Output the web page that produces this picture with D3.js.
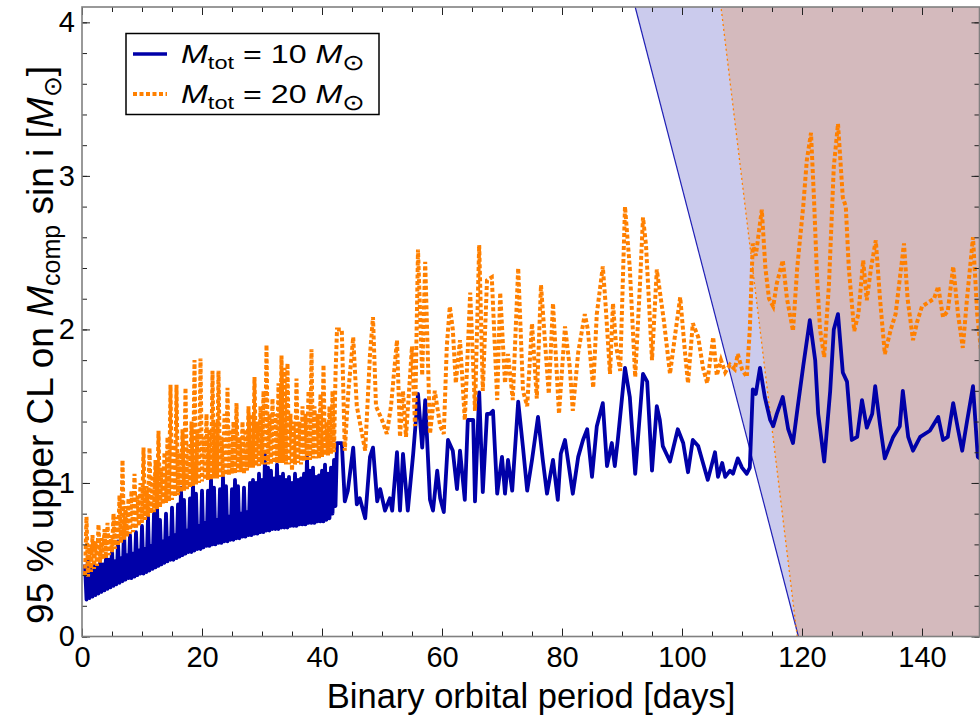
<!DOCTYPE html>
<html>
<head>
<meta charset="utf-8">
<script src="https://cdn.jsdelivr.net/npm/d3@7"></script>
<style>
body { margin:0; background:#fff; }
svg { display:block; font-family:"Liberation Sans", Arial, Helvetica, sans-serif; }
</style>
</head>
<body>
<svg id="graph"></svg>
<script>
// M_tot = 10 Msun : [period (days), 95% upper CL (Msun)]
var m10Series = [
[0.50,0.47],[0.75,0.24],[1.00,0.52],[1.25,0.25],[1.50,0.44],[1.75,0.26],[2.00,0.48],[2.25,0.27],[2.50,0.46],[2.75,0.28],
[3.00,0.50],[3.25,0.29],[3.50,0.47],[3.75,0.30],[4.00,0.52],[4.25,0.31],[4.50,0.50],[4.75,0.32],[5.00,0.57],[5.25,0.33],
[5.50,0.49],[5.75,0.34],[6.00,0.62],[6.25,0.35],[6.50,0.51],[6.75,0.36],[7.00,0.70],[7.25,0.37],[7.50,0.53],[7.75,0.38],
[8.00,0.66],[8.25,0.38],[8.50,0.54],[8.75,0.39],[9.00,0.68],[9.25,0.40],[9.50,0.56],[9.75,0.41],[10.00,0.72],[10.25,0.41],
[10.50,0.57],[10.75,0.42],[11.00,0.78],[11.25,0.43],[11.50,0.59],[11.75,0.44],[12.00,0.80],[12.25,0.45],[12.50,0.85],[12.75,0.46],
[13.00,0.76],[13.25,0.47],[13.50,0.62],[13.75,0.48],[14.00,0.80],[14.25,0.49],[14.50,0.64],[14.75,0.50],[15.00,0.84],[15.25,0.50],
[15.50,0.66],[15.75,0.51],[16.00,0.86],[16.25,0.52],[16.50,0.97],[16.75,0.53],[17.00,0.89],[17.25,0.54],[17.50,0.69],[17.75,0.55],
[18.00,0.90],[18.25,0.55],[18.50,1.00],[18.75,0.56],[19.00,0.93],[19.25,0.57],[19.50,0.72],[19.75,0.57],[20.00,0.95],[20.25,0.58],
[20.50,0.74],[20.75,0.59],[21.00,0.95],[21.25,0.59],[21.50,1.03],[21.75,0.60],[22.00,0.97],[22.25,0.60],[22.50,0.76],[22.75,0.61],
[23.00,0.96],[23.25,0.61],[23.50,1.04],[23.75,0.62],[24.00,0.98],[24.25,0.62],[24.50,0.78],[24.75,0.63],[25.00,0.96],[25.25,0.63],
[25.50,1.02],[25.75,0.64],[26.00,0.98],[26.25,0.64],[26.50,0.80],[26.75,0.65],[27.00,0.97],[27.25,0.65],[27.50,0.81],[27.75,0.66],
[28.00,1.00],[28.25,0.66],[28.50,1.02],[28.75,0.67],[29.00,1.00],[29.25,0.67],[29.50,1.06],[29.75,0.68],[30.00,1.02],[30.25,0.68],
[30.50,1.19],[30.75,0.69],[31.00,1.10],[31.25,0.69],[31.50,1.08],[31.75,0.70],[32.00,1.03],[32.25,0.70],[32.50,1.12],[32.75,0.70],
[33.00,1.04],[33.25,0.71],[33.50,1.06],[33.75,0.71],[34.00,1.02],[34.25,0.71],[34.50,1.04],[34.75,0.72],[35.00,1.00],[35.25,0.72],
[35.50,1.06],[35.75,0.72],[36.00,1.02],[36.25,0.73],[36.50,1.03],[36.75,0.73],[37.00,1.06],[37.25,0.73],[37.50,1.17],[37.75,0.74],
[38.00,1.08],[38.25,0.74],[38.50,1.10],[38.75,0.74],[39.00,1.04],[39.25,0.75],[39.50,1.05],[39.75,0.75],[40.00,1.08],[40.25,0.75],
[40.50,1.12],[40.75,0.76],[41.00,1.06],[41.25,0.77],[41.50,1.10],[41.75,0.80],[42.00,1.15],[42.25,0.85],[42.50,1.26],
[43.3,1.26],[43.8,0.88],[44.3,0.95],[45.2,1.23],[45.8,0.86],[46.3,0.90],[47.2,0.77],[48.0,1.17],[48.5,1.23],[49.2,0.88],
[49.7,0.96],[50.5,0.82],[51.3,0.90],[51.7,0.82],[52.5,1.20],[53.0,0.82],[53.5,1.19],[54.3,0.82],[55.2,1.19],[56.0,1.58],
[56.7,1.23],[57.2,1.54],[58.0,0.89],[58.5,0.82],[59.2,1.08],[59.7,0.90],[60.3,0.81],[61.0,1.28],[61.8,1.21],[62.5,0.96],
[63.0,1.21],[63.8,0.89],[64.3,1.41],[65.2,1.41],[65.5,0.88],[66.2,1.59],[66.8,0.94],[67.5,1.45],[68.0,1.45],[68.5,1.47],
[69.2,0.93],[70.0,1.17],[70.5,0.93],[71.0,1.15],[71.7,0.95],[72.7,1.53],[73.5,1.23],[74.2,0.95],[75.0,1.15],[76.0,1.43],
[76.8,1.15],[77.5,0.93],[78.5,1.15],[79.3,0.89],[79.8,1.19],[80.5,1.28],[80.8,1.20],[81.8,0.93],[82.7,1.17],[83.5,1.28],
[84.2,1.35],[85.0,1.04],[85.8,1.37],[86.8,1.52],[87.5,1.11],[88.3,1.26],[88.8,1.11],[89.3,1.28],[90.5,1.75],[91.3,1.56],
[92.2,1.06],[93.5,1.71],[94.2,1.66],[95.0,1.08],[95.8,1.50],[96.3,1.41],[96.8,1.24],[98.0,1.14],[99.3,1.35],[100.2,1.26],
[101.0,1.07],[101.8,1.28],[102.7,1.24],[103.5,1.13],[104.3,1.02],[105.5,1.20],[106.0,1.04],[106.7,1.13],[107.2,1.04],[108.0,1.08],
[108.5,1.06],[109.3,1.16],[110.0,1.10],[110.8,1.06],[111.3,1.10],[111.8,1.61],[112.3,1.58],[113.0,1.75],[113.8,1.56],[114.7,1.41],
[115.2,1.37],[115.8,1.45],[116.8,1.56],[117.7,1.35],[118.5,1.26],[119.3,1.50],[120.2,1.76],[121.3,2.06],[122.2,1.80],[122.7,1.45],
[123.7,1.14],[124.7,1.60],[125.3,2.00],[126.0,2.10],[126.8,1.72],[127.5,1.66],[128.3,1.28],[129.2,1.30],[130.0,1.54],[130.8,1.36],
[131.7,1.45],[132.2,1.63],[133.0,1.38],[133.8,1.16],[135.2,1.30],[136.3,1.37],[136.8,1.60],[137.7,1.30],[138.5,1.21],[139.7,1.30],
[141.3,1.34],[142.7,1.43],[143.5,1.28],[144.3,1.30],[145.2,1.52],[146.0,1.35],[146.7,1.21],[147.5,1.40],[148.5,1.63],[149.3,1.17],
[150.0,1.15]
];

// M_tot = 20 Msun
var m20Series = [
[0.50,0.40],[0.75,0.78],[1.00,0.39],[1.25,0.60],[1.50,0.42],[1.75,0.66],[2.00,0.44],[2.25,0.62],[2.50,0.46],[2.75,0.73],
[3.00,0.48],[3.25,0.64],[3.50,0.50],[3.75,0.70],[4.00,0.51],[4.25,0.74],[4.50,0.53],[4.75,0.66],[5.00,0.55],[5.25,0.80],
[5.50,0.57],[5.75,0.78],[6.00,0.59],[6.25,0.92],[6.50,0.61],[6.75,1.15],[7.00,0.63],[7.25,0.85],[7.50,0.65],[7.75,0.90],
[8.00,0.67],[8.25,0.95],[8.50,0.68],[8.75,1.06],[9.00,0.70],[9.25,0.92],[9.50,0.72],[9.75,1.00],[10.00,0.74],[10.25,1.23],
[10.50,0.76],[10.75,0.98],[11.00,0.78],[11.25,1.23],[11.50,0.80],[11.75,1.05],[12.00,0.81],[12.25,1.15],[12.50,0.83],[12.75,1.34],
[13.00,0.84],[13.25,1.10],[13.50,0.86],[13.75,1.20],[14.00,0.87],[14.25,1.30],[14.50,0.88],[14.75,1.64],[15.00,0.89],[15.25,1.25],
[15.50,0.91],[15.75,1.64],[16.00,0.92],[16.25,1.20],[16.50,0.94],[16.75,1.35],[17.00,0.95],[17.25,1.62],[17.50,0.96],[17.75,1.25],
[18.00,0.97],[18.25,1.40],[18.50,0.98],[18.75,1.80],[19.00,0.99],[19.25,1.35],[19.50,1.00],[19.75,1.81],[20.00,1.01],[20.25,1.30],
[20.50,1.02],[20.75,1.45],[21.00,1.02],[21.25,1.35],[21.50,1.02],[21.75,1.73],[22.00,1.03],[22.25,1.40],[22.50,1.03],[22.75,1.73],
[23.00,1.04],[23.25,1.30],[23.50,1.04],[23.75,1.45],[24.00,1.05],[24.25,1.62],[24.50,1.05],[24.75,1.35],[25.00,1.06],[25.25,1.40],
[25.50,1.06],[25.75,1.52],[26.00,1.07],[26.25,1.30],[26.50,1.07],[26.75,1.40],[27.00,1.06],[27.25,1.35],[27.50,1.08],[27.75,1.50],
[28.00,1.10],[28.25,1.45],[28.50,1.10],[28.75,1.69],[29.00,1.11],[29.25,1.40],[29.50,1.11],[29.75,1.50],[30.00,1.12],[30.25,1.60],
[30.50,1.12],[30.75,1.90],[31.00,1.12],[31.25,1.45],[31.50,1.12],[31.75,1.55],[32.00,1.13],[32.25,1.45],[32.50,1.13],[32.75,1.65],
[33.00,1.13],[33.25,1.83],[33.50,1.13],[33.75,1.75],[34.00,1.12],[34.25,1.78],[34.50,1.12],[34.75,1.45],[35.00,1.08],[35.25,1.40],
[35.50,1.12],[35.75,1.68],[36.00,1.13],[36.25,1.40],[36.50,1.12],[36.75,1.50],[37.00,1.14],[37.25,1.45],[37.50,1.15],[37.75,1.60],
[38.00,1.15],[38.25,1.87],[38.50,1.16],[38.75,1.50],[39.00,1.16],[39.25,1.45],[39.50,1.16],[39.75,1.58],[40.00,1.17],[40.25,1.77],
[40.50,1.18],[40.75,1.40],[41.00,1.18],[41.25,1.50],[41.50,1.19],[41.75,1.60],[42.00,1.20],[42.25,1.70],[42.50,2.00],
[43.3,2.00],[43.8,1.21],[44.4,1.60],[45.2,1.95],[45.8,1.50],[47.2,1.21],[48.0,1.84],[48.5,2.08],[49.0,1.50],[50.0,1.41],
[50.8,1.32],[51.5,1.50],[52.5,1.93],[53.0,1.30],[53.5,1.60],[54.0,1.30],[55.0,1.89],[55.5,1.37],[56.0,2.52],[56.7,1.70],
[57.2,2.44],[58.0,1.32],[58.8,1.60],[59.7,1.37],[60.3,1.32],[60.8,1.89],[61.3,2.15],[61.8,2.00],[62.3,1.65],[63.0,1.93],
[63.8,1.41],[64.7,2.24],[65.5,1.47],[66.2,2.55],[66.8,1.60],[67.5,2.32],[68.3,2.34],[69.2,1.54],[69.7,2.24],[70.5,1.65],
[71.0,1.84],[71.8,1.54],[72.7,2.40],[73.5,1.60],[74.2,1.50],[75.0,2.04],[75.8,1.55],[76.5,2.29],[77.2,1.90],[77.8,1.58],
[78.5,2.17],[79.5,1.45],[80.5,2.02],[81.3,1.75],[81.8,1.47],[82.7,1.85],[83.8,2.10],[84.3,2.00],[85.2,1.62],[85.8,2.10],
[86.8,2.41],[87.2,2.20],[88.0,1.71],[88.5,2.17],[89.0,1.90],[89.7,1.73],[90.5,2.80],[91.3,2.40],[92.2,1.69],[93.0,2.30],
[93.5,2.73],[94.0,2.55],[95.0,1.80],[95.8,2.39],[96.3,2.25],[97.0,2.05],[98.0,1.71],[98.8,1.95],[99.7,2.21],[100.5,1.85],
[101.0,1.65],[101.8,2.04],[102.7,1.95],[103.5,1.75],[104.2,1.65],[105.2,1.95],[105.8,1.70],[106.5,1.80],[107.2,1.72],[108.0,1.77],
[108.8,1.74],[109.3,1.84],[110.0,1.74],[110.8,1.69],[111.3,2.00],[111.8,2.56],[112.3,2.48],[113.3,2.78],[113.9,2.40],[114.5,2.20],
[115.2,2.15],[115.8,2.30],[116.8,2.45],[117.5,2.20],[118.5,1.99],[119.2,2.40],[120.2,2.80],[120.8,3.10],[121.5,3.28],[122.0,2.85],
[122.5,2.35],[123.0,2.00],[123.7,1.82],[124.5,2.30],[125.3,3.06],[126.0,3.34],[126.8,2.86],[127.3,2.80],[127.8,2.40],[128.7,1.99],
[129.4,2.10],[130.2,2.45],[130.8,2.19],[131.5,2.40],[132.3,2.58],[133.0,2.20],[133.8,1.84],[134.8,2.00],[135.6,2.10],[137.0,2.56],
[137.6,2.20],[138.5,1.93],[139.2,2.05],[140.0,2.15],[140.8,2.17],[142.0,2.20],[142.7,2.28],[143.5,2.08],[144.3,2.12],[145.2,2.41],
[146.0,2.10],[146.8,1.88],[147.5,2.20],[148.5,2.60],[149.2,2.10],[150.0,1.80]
];

// excluded-region boundaries [period, mass]
var m10Limit = [[119.4,0],[92.2,4.1]];
var m20Limit = [[119.2,0],[106.5,4.1]];

var xMajor = [0,20,40,60,80,100,120,140];
var yMajor = [0,1,2,3,4];
var legendLabels = ["10","20"];

var screen = {width:980, height:718};
var margins = {top:7, bottom:81.5, left:82, right:0};
var graph = {
    width: screen.width-margins.left-margins.right,
    height: screen.height-margins.top-margins.bottom
};

var svg = d3.select("#graph")
    .attr("width",screen.width)
    .attr("height",screen.height);

var xScale = d3.scaleLinear()
    .domain([0,graph.width/6])
    .range([margins.left,margins.left+graph.width]);
var yScale = d3.scaleLinear()
    .domain([0,4.1])
    .range([margins.top+graph.height,margins.top]);

var xMax = xScale.domain()[1], yMax = yScale.domain()[1];

svg.append("clipPath").attr("id","plotclip")
    .append("rect")
    .attr("x",margins.left).attr("y",margins.top)
    .attr("width",graph.width).attr("height",graph.height);

var plot = svg.append("g").attr("clip-path","url(#plotclip)");

var area = function(limit)
{
    return limit.concat([[xMax,yMax],[xMax,0]]);
}
var poly = d3.line()
    .x(function(d){ return xScale(d[0]); })
    .y(function(d){ return yScale(d[1]); });

plot.append("path")
    .attr("d",poly(area(m10Limit))+"Z")
    .attr("fill","#cbcbed");
plot.append("path")
    .attr("d",poly(area(m20Limit))+"Z")
    .attr("fill","#d4babd");
plot.append("path")
    .attr("d",poly(m10Limit))
    .attr("fill","none").attr("stroke","#1f1fb4").attr("stroke-width",1.2);
plot.append("path")
    .attr("d",poly(m20Limit))
    .attr("fill","none").attr("stroke","#ff8000").attr("stroke-width",1.3)
    .attr("stroke-dasharray","2,3");

plot.append("path")
    .datum(m10Series)
    .attr("d",poly)
    .attr("fill","none")
    .attr("stroke","#0000a8")
    .attr("stroke-width",3.8)
    .attr("stroke-linejoin","round");

plot.append("path")
    .datum(m20Series)
    .attr("d",poly)
    .attr("fill","none")
    .attr("stroke","#ff8000")
    .attr("stroke-width",4)
    .attr("stroke-dasharray","4,2.5");

// frame + inward ticks on all four sides
var xMinor = d3.range(0,xMax,5);
var yMinor = d3.range(0,yMax,0.2);

var addAxis = function(axis,tx,ty,major,minor,labels)
{
    var g = svg.append("g").attr("transform","translate("+tx+","+ty+")");
    g.call(axis.tickValues(minor).tickSize(-5).tickFormat(""));
    g.select(".domain").remove();
    var g2 = svg.append("g").attr("transform","translate("+tx+","+ty+")");
    g2.call(axis.tickValues(major).tickSize(-8).tickFormat(labels ? d3.format("d") : ""));
    g2.select(".domain").remove();
    return g2;
}

addAxis(d3.axisBottom(xScale).tickSizeOuter(0).tickPadding(10),0,margins.top+graph.height,xMajor,xMinor,true);
addAxis(d3.axisTop(xScale).tickSizeOuter(0),0,margins.top,xMajor,xMinor,false);
addAxis(d3.axisLeft(yScale).tickSizeOuter(0).tickPadding(7),margins.left,0,yMajor,yMinor,true);
addAxis(d3.axisRight(yScale).tickSizeOuter(0),margins.left+graph.width-0.5,0,yMajor,yMinor,false);

svg.selectAll(".tick line").attr("stroke","#222").attr("stroke-width",1);
svg.selectAll(".tick text")
    .attr("font-family","'Liberation Sans', Arial, sans-serif")
    .attr("font-size",29)
    .attr("fill","#000");

svg.append("rect")
    .attr("x",margins.left).attr("y",margins.top)
    .attr("width",graph.width-0.5).attr("height",graph.height)
    .attr("fill","none").attr("stroke","#808080").attr("stroke-width",1.6);

// axis titles
svg.append("text")
    .attr("x",margins.left+graph.width/2)
    .attr("y",708)
    .attr("text-anchor","middle")
    .attr("font-size",34.5)
    .text("Binary orbital period [days]");

var ylab = svg.append("text")
    .attr("transform","translate(53,345) rotate(-90)")
    .attr("text-anchor","middle")
    .attr("font-size",37);
ylab.append("tspan").text("95 % upper CL on ");
ylab.append("tspan").attr("font-style","italic").text("M");
ylab.append("tspan").attr("font-size",25).attr("dy",7).text("comp");
ylab.append("tspan").attr("dy",-7).text(" sin i [");
ylab.append("tspan").attr("font-style","italic").text("M");
ylab.append("tspan").attr("font-size",25).attr("dy",8).text("\u2299");
ylab.append("tspan").attr("dy",-8).text("]");

// legend
var legend = svg.append("g");
legend.append("rect")
    .attr("x",126).attr("y",33.5).attr("width",253).attr("height",81)
    .attr("fill","#fff").attr("stroke","#000").attr("stroke-width",1.5);

var legendStyle = [
    {color:"#0000a8", dash:null, width:3.6},
    {color:"#ff8000", dash:"4,2.5", width:3.8}
];
legendLabels.forEach(function(lab,i)
{
    var cy = 54 + i*40;
    legend.append("line")
        .attr("x1",133).attr("x2",167)
        .attr("y1",cy).attr("y2",cy)
        .attr("stroke",legendStyle[i].color)
        .attr("stroke-width",legendStyle[i].width)
        .attr("stroke-dasharray",legendStyle[i].dash);
    var t = legend.append("text")
        .attr("transform","translate(181,"+(cy+9)+") scale(1.24,1)")
        .attr("font-size",26);
    t.append("tspan").attr("font-style","italic").text("M");
    t.append("tspan").attr("font-size",19).attr("dy",6).text("tot");
    t.append("tspan").attr("dy",-6).text(" = "+lab+" ");
    t.append("tspan").attr("font-style","italic").text("M");
    t.append("tspan").attr("font-size",22).attr("dy",7).text("\u2299");
});
</script>
</body>
</html>
